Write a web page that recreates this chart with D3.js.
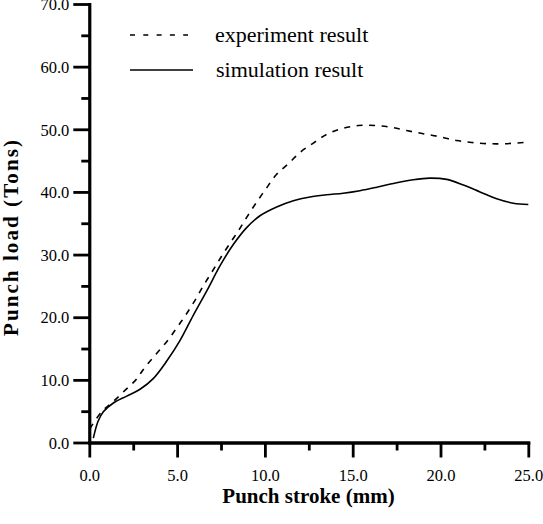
<!DOCTYPE html>
<html>
<head>
<meta charset="utf-8">
<script src="https://cdn.jsdelivr.net/npm/d3@7"></script>
<style>
  body { margin: 0; background: #fff; }
  svg { display: block; }
  text { font-family: "Liberation Serif", "Times New Roman", serif; fill: #000; }
</style>
</head>
<body>
<svg id="chart" width="543" height="524"></svg>
<script>
// ---- data ----
const xMajorTicks = [0, 5, 10, 15, 20, 25];
const yMajorTicks = [0, 10, 20, 30, 40, 50, 60, 70];
const xMinorTicks = [2.5, 7.5, 12.5, 17.5, 22.5];
const yMinorTicks = [5, 15, 25, 35, 45, 55, 65];

const seriesNames = ["experiment result", "simulation result"];

const experimentX = [0.03, 0.7, 1.35, 1.95, 2.65, 3.17, 3.8, 4.41, 4.98, 5.5, 6.02, 6.49, 7.0, 7.48, 8.01, 8.49, 9.0, 9.49, 10.06, 10.63, 11.33, 12.04, 12.76, 13.52, 14.37, 15.32, 16.27, 17.22, 18.07, 19.0, 19.97, 20.92, 21.78, 22.72, 23.67, 24.8];
const experimentY = [2.2, 4.9, 6.5, 8.1, 10.0, 12.0, 14.1, 16.1, 18.3, 20.4, 22.7, 25.0, 27.3, 29.5, 31.8, 33.8, 36.1, 38.2, 40.5, 42.7, 44.5, 46.4, 47.8, 49.2, 50.1, 50.6, 50.6, 50.3, 49.8, 49.3, 48.8, 48.2, 47.9, 47.7, 47.7, 47.9];

const simulationX = [0.23, 0.5, 0.8, 1.37, 2.13, 2.89, 3.64, 4.41, 5.17, 5.92, 6.69, 7.44, 8.2, 8.96, 9.72, 10.67, 11.62, 12.57, 13.52, 14.46, 15.41, 16.37, 17.31, 18.45, 19.4, 20.35, 21.3, 22.25, 23.2, 24.15, 25.0];
const simulationY = [0.7, 3.4, 4.9, 6.3, 7.4, 8.5, 10.2, 13.0, 16.3, 20.3, 24.2, 28.2, 31.6, 34.3, 36.2, 37.6, 38.6, 39.2, 39.55, 39.8, 40.2, 40.75, 41.35, 41.95, 42.2, 42.0, 41.1, 40.0, 38.9, 38.2, 38.0];

// ---- layout ----
const svg = d3.select("#chart");
const x = d3.scaleLinear().domain([0, 25]).range([89.3, 528.3]);
const y = d3.scaleLinear().domain([0, 70]).range([442.5, 4]);
const fmt = d3.format(".1f");
const axisW = 2.8;

// minor ticks (drawn first, no labels)
const xMinor = svg.append("g").attr("transform", `translate(0,${y(0)})`)
  .call(d3.axisBottom(x).tickValues(xMinorTicks).tickSize(8).tickSizeOuter(0).tickFormat(""));
const yMinor = svg.append("g").attr("transform", `translate(${x(0)},0)`)
  .call(d3.axisLeft(y).tickValues(yMinorTicks).tickSize(8).tickSizeOuter(0).tickFormat(""));

const xAxis = svg.append("g").attr("transform", `translate(0,${y(0)})`)
  .call(d3.axisBottom(x).tickValues(xMajorTicks).tickSize(15).tickSizeOuter(0).tickFormat(fmt));
const yAxis = svg.append("g").attr("transform", `translate(${x(0)},0)`)
  .call(d3.axisLeft(y).tickValues(yMajorTicks).tickSize(16).tickSizeOuter(0).tickFormat(fmt).tickPadding(4));

[xMinor, yMinor, xAxis, yAxis].forEach(g => {
  g.selectAll("path.domain").attr("stroke", "#000").attr("stroke-width", axisW).attr("stroke-linecap", "square");
  g.selectAll(".tick line").attr("stroke", "#000").attr("stroke-width", axisW);
  g.selectAll(".tick text").attr("font-family", "Liberation Serif, Times New Roman, serif")
    .attr("font-size", 16.5).attr("fill", "#000");
});
xAxis.selectAll(".tick text").attr("dy", "0.71em").attr("y", 27);
yAxis.selectAll(".tick text").attr("dy", "0.35em");

// ---- lines ----
const line = d3.line().x(d => x(d[0])).y(d => y(d[1])).curve(d3.curveCatmullRom.alpha(0.5));
const expData = experimentX.map((v, i) => [v, experimentY[i]]);
const simData = simulationX.map((v, i) => [v, simulationY[i]]);

svg.append("path").datum(expData).attr("d", line)
  .attr("fill", "none").attr("stroke", "#000").attr("stroke-width", 1.6).attr("stroke-dasharray", "6,6.5");
svg.append("path").datum(simData).attr("d", line)
  .attr("fill", "none").attr("stroke", "#000").attr("stroke-width", 1.6);

// ---- legend ----
const legend = svg.append("g");
legend.append("line").attr("x1", 130).attr("x2", 188).attr("y1", 35).attr("y2", 35)
  .attr("stroke", "#000").attr("stroke-width", 1.5).attr("stroke-dasharray", "5,8.3");
legend.append("line").attr("x1", 130).attr("x2", 193).attr("y1", 70).attr("y2", 70)
  .attr("stroke", "#000").attr("stroke-width", 1.5);
legend.append("text").attr("x", 215).attr("y", 41.5).attr("font-size", 22).text(seriesNames[0]);
legend.append("text").attr("x", 216).attr("y", 77).attr("font-size", 22).text(seriesNames[1]);

// ---- axis titles ----
svg.append("text").attr("x", 308.5).attr("y", 503).attr("text-anchor", "middle")
  .attr("font-size", 21).attr("font-weight", "bold").text("Punch stroke (mm)");
svg.append("text").attr("transform", "translate(18,238) rotate(-90)").attr("text-anchor", "middle")
  .attr("font-size", 21).attr("font-weight", "bold")
  .attr("textLength", 196).attr("lengthAdjust", "spacing").text("Punch load (Tons)");
</script>
</body>
</html>
